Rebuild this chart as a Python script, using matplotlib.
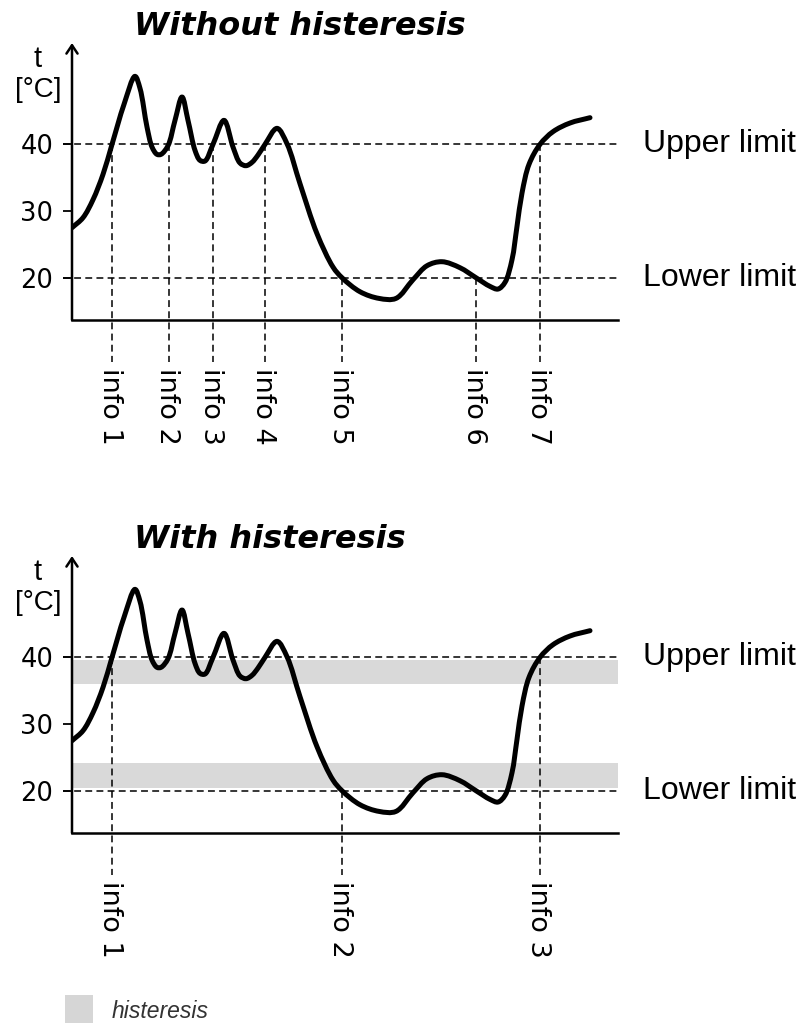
import numpy as np
import matplotlib
matplotlib.use("Agg")
import matplotlib.pyplot as plt
from matplotlib.path import Path
from matplotlib.patches import PathPatch, Rectangle

# temperature curve (time in arbitrary units, 0..546 = x axis)
time = [0, 11, 21, 31, 40, 52, 63, 68, 75, 80, 85, 89, 96, 103, 110, 116, 123,
        128, 133, 141, 152, 161, 168, 174, 180, 186, 193, 205, 215, 228, 245,
        261, 270, 288, 307, 324, 341, 355, 370, 388, 404, 418, 426, 433, 440,
        445, 450, 457, 468, 481, 498, 518]
temp = [27.5, 29.0, 31.7, 35.5, 40.0, 46.0, 50.2, 48.4, 42.6, 39.6, 38.5, 38.5,
        39.8, 43.6, 47.1, 43.6, 39.1, 37.6, 37.5, 40.0, 43.6, 39.6, 37.2, 36.8,
        37.3, 38.4, 40.0, 42.4, 40.1, 34.1, 26.6, 21.6, 20.0, 17.9, 16.9, 16.9,
        19.7, 21.8, 22.4, 21.5, 20.0, 18.7, 18.3, 19.3, 22.7, 27.7, 32.7, 37.0,
        40.0, 41.9, 43.2, 44.0]

upper_limit = 40
lower_limit = 20
yticks = [20, 30, 40]

# info markers: (time, limit where the dashed drop line starts)
info_top_t = [40, 97, 141, 193, 270, 404, 468]
info_top_lim = [40, 40, 40, 40, 20, 20, 40]
info_bot_t = [40, 270, 468]
info_bot_lim = [40, 20, 40]

hyst_upper = (36.0, 39.6)
hyst_lower = (20.4, 24.2)

W, H = 802, 1023
fig = plt.figure(figsize=(W / 100, H / 100), dpi=100)
fig.patch.set_facecolor("white")


def fx(px):
    return px / W


def fy(py):
    return 1 - py / H


def smooth_path(xs, ys, yscale=6.67):
    # centripetal Catmull-Rom through the read points, as Bezier segments
    p = np.column_stack([xs, np.asarray(ys, float) * yscale]).astype(float)
    p = np.vstack([2 * p[0] - p[1], p, 2 * p[-1] - p[-2]])
    verts = [p[1]]
    codes = [Path.MOVETO]
    for i in range(1, len(p) - 2):
        p0, p1, p2, p3 = p[i - 1], p[i], p[i + 1], p[i + 2]
        d0 = np.linalg.norm(p1 - p0) ** 0.5
        d1 = np.linalg.norm(p2 - p1) ** 0.5
        d2 = np.linalg.norm(p3 - p2) ** 0.5
        t1 = (p1 - p0) / d0 - (p2 - p0) / (d0 + d1) + (p2 - p1) / d1
        t2 = (p2 - p1) / d1 - (p3 - p1) / (d1 + d2) + (p3 - p2) / d2
        verts += [p1 + d1 * t1 / 3, p2 - d1 * t2 / 3, p2]
        codes += [Path.CURVE4] * 3
    verts = np.array(verts)
    verts[:, 1] /= yscale
    return Path(verts, codes)


YMIN, YMAX = 13.66, 55.2
XMAX = 546
dash = dict(color="black", lw=1.1, dashes=(4.5, 2.8), clip_on=False)


def panel(top_px, title, info_t, info_lim, bands):
    bottom_px = top_px + 277
    ax = fig.add_axes([fx(72), fy(bottom_px), fx(546), 277 / H])
    ax.set_xlim(0, XMAX)
    ax.set_ylim(YMIN, YMAX)
    for s in ("top", "right", "left"):
        ax.spines[s].set_visible(False)
    ax.spines["bottom"].set_linewidth(1.8)
    ax.set_xticks([])
    ax.set_yticks(yticks)
    ax.tick_params(axis="y", length=6.5, width=1.3, pad=7, labelsize=18.5)
    ax.patch.set_alpha(0)

    ax.annotate("", xy=(0, 1), xytext=(0, 0), xycoords="axes fraction",
                arrowprops=dict(arrowstyle="->,head_length=0.6,head_width=0.4",
                                lw=1.8, color="black", shrinkA=0, shrinkB=0))

    for lo, hi in bands:
        ax.axhspan(lo, hi, color="#d9d9d9", lw=0, zorder=0)

    for lim in (upper_limit, lower_limit):
        ax.plot([-9, 548], [lim, lim], **dash)
    ax.text(571, upper_limit, "Upper limit", fontsize=23, family="Liberation Sans",
            va="center", ha="left", clip_on=False)
    ax.text(571, lower_limit, "Lower limit", fontsize=23, family="Liberation Sans",
            va="center", ha="left", clip_on=False)

    for i, (t, lim) in enumerate(zip(info_t, info_lim)):
        ax.plot([t, t], [lim, 7.4], **dash)
        ax.text(t - 2, 6.5, f"info {i + 1}", rotation=270, fontsize=19.5,
                ha="center", va="top", clip_on=False)

    ax.add_patch(PathPatch(smooth_path(time, temp), fill=False, lw=3.6,
                           edgecolor="black", capstyle="round", joinstyle="round",
                           zorder=5))

    ax.text(-34, 52.8, "t", fontsize=21, family="Liberation Sans",
            ha="center", va="center", clip_on=False)
    ax.text(-34, 48.1, "[°C]", fontsize=20, family="Liberation Sans",
            ha="center", va="center", clip_on=False)

    fig.text(fx(134), fy(top_px - 8), title, fontsize=23, fontweight="bold",
             fontstyle="italic", ha="left", va="baseline")
    return ax


panel(43, "Without histeresis", info_top_t, info_top_lim, [])
panel(556, "With histeresis", info_bot_t, info_bot_lim, [hyst_upper, hyst_lower])

# legend
fig.patches.append(Rectangle((fx(65), fy(1023)), fx(28), 28 / H,
                             transform=fig.transFigure, color="#d6d6d6", lw=0))
fig.text(fx(112), fy(1018), "histeresis", fontsize=16.5, family="Liberation Sans",
         fontstyle="italic", color="#333333", ha="left", va="baseline")

fig.savefig("out.png", dpi=100, facecolor="white")
